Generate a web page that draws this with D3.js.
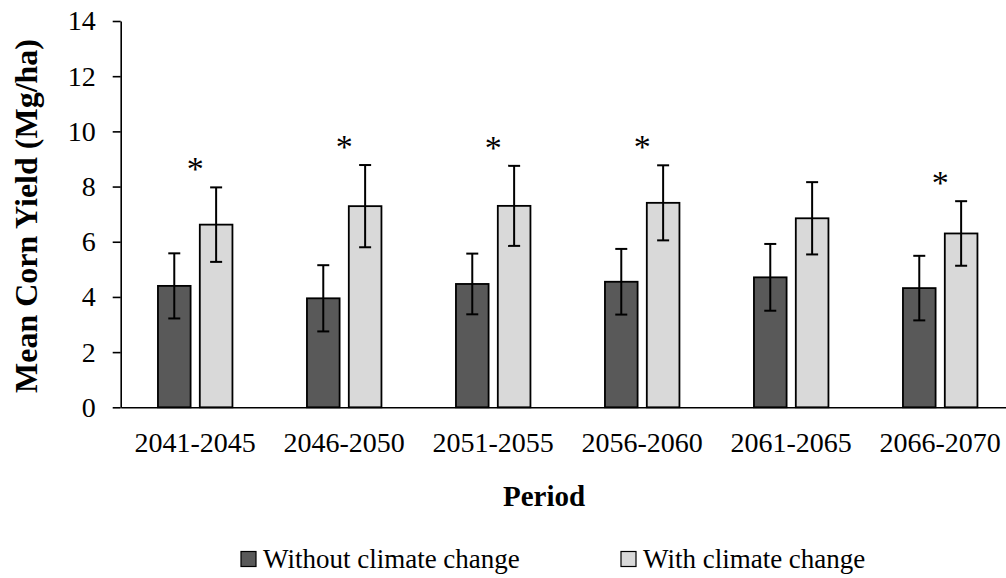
<!DOCTYPE html>
<meta charset="utf-8">
<style>
  body { margin: 0; background: #fff; }
  text { font-family: "Liberation Serif", "Times New Roman", serif; fill: #000; }
</style>
<body>
<svg width="1006" height="578"></svg>
<script src="https://d3js.org/d3.v7.min.js"></script>
<script>

// values
var periods = ["2041-2045", "2046-2050", "2051-2055", "2056-2060", "2061-2065", "2066-2070"];
var series = ["Without climate change", "With climate change"];
var withoutCC = [4.40, 3.95, 4.47, 4.55, 4.71, 4.32];
var withCC = [6.62, 7.29, 7.30, 7.41, 6.85, 6.30];
var withoutErr = [1.18, 1.20, 1.10, 1.19, 1.21, 1.17];
var withErr = [1.35, 1.49, 1.45, 1.36, 1.31, 1.17];
var significant = [true, true, true, true, false, true];
var yTicks = [0, 2, 4, 6, 8, 10, 12, 14];
var colors = ["#595959", "#d9d9d9"];

var svg = d3.select("svg");

var x0 = d3.scaleBand()
    .domain(periods)
    .range([120.7, 1014.7])
    .paddingInner(0.5)
    .paddingOuter(0.25);

var x1 = d3.scaleBand()
    .domain(series)
    .range([0, x0.bandwidth()])
    .paddingInner(0.22);

var y = d3.scaleLinear()
    .domain([0, 14])
    .range([407.3, 21]);

// one row per bar
var rows = [];
periods.forEach(function(p, i) {
  rows.push({ period: p, s: series[0], v: withoutCC[i], e: withoutErr[i], c: colors[0] });
  rows.push({ period: p, s: series[1], v: withCC[i], e: withErr[i], c: colors[1] });
});

// bars
svg.append("g").selectAll("rect")
    .data(rows)
  .enter().append("rect")
    .attr("x", function(d) { return x0(d.period) + x1(d.s); })
    .attr("y", function(d) { return y(d.v); })
    .attr("width", x1.bandwidth())
    .attr("height", function(d) { return y(0) - y(d.v); })
    .attr("fill", function(d) { return d.c; })
    .attr("stroke", "#000")
    .attr("stroke-width", 1.8);

// error bars
var capW = 12;
var err = svg.append("g")
    .attr("stroke", "#000")
    .attr("stroke-width", 2)
    .attr("fill", "none");

rows.forEach(function(d) {
  var cx = x0(d.period) + x1(d.s) + x1.bandwidth() / 2;
  var top = y(d.v + d.e), bot = y(d.v - d.e);
  err.append("line").attr("x1", cx).attr("x2", cx).attr("y1", top).attr("y2", bot);
  err.append("line").attr("x1", cx - capW / 2).attr("x2", cx + capW / 2).attr("y1", top).attr("y2", top);
  err.append("line").attr("x1", cx - capW / 2).attr("x2", cx + capW / 2).attr("y1", bot).attr("y2", bot);
});

// significance asterisks
periods.forEach(function(p, i) {
  if (!significant[i]) return;
  svg.append("text")
      .attr("x", x0(p) + x0.bandwidth() / 2)
      .attr("y", y(withCC[i] + withErr[i]) - 7)
      .attr("text-anchor", "middle")
      .style("font-size", "34px")
      .text("*");
});

// y axis
var yAxis = svg.append("g")
    .attr("transform", "translate(120.7,0)")
    .call(d3.axisLeft(y).tickValues(yTicks).tickSize(8).tickSizeOuter(0).tickPadding(17));
yAxis.selectAll("text").style("font-size", "28px").style("font-family", "'Liberation Serif', serif");
yAxis.selectAll("line, path").attr("stroke", "#000").attr("stroke-width", 1.6);

// x axis
var xAxis = svg.append("g")
    .attr("transform", "translate(0," + y(0) + ")")
    .call(d3.axisBottom(x0).tickSize(0).tickPadding(24.5));
xAxis.selectAll("text").style("font-size", "28px").style("font-family", "'Liberation Serif', serif");
xAxis.select("path").attr("stroke", "#000").attr("stroke-width", 1.6);

// axis titles
svg.append("text")
    .attr("transform", "translate(37,216) rotate(-90)")
    .attr("text-anchor", "middle")
    .style("font-size", "32px")
    .style("font-weight", "bold")
    .text("Mean Corn Yield (Mg/ha)");

svg.append("text")
    .attr("x", 544)
    .attr("y", 506)
    .attr("text-anchor", "middle")
    .style("font-size", "29px")
    .style("font-weight", "bold")
    .text("Period");

// legend
var legendX = [241, 621];
var legend = svg.append("g").selectAll("g")
    .data(series)
  .enter().append("g")
    .attr("transform", function(d, i) { return "translate(" + legendX[i] + ",0)"; });

legend.append("rect")
    .attr("x", 0)
    .attr("y", 551.5)
    .attr("width", 15)
    .attr("height", 15)
    .attr("fill", function(d, i) { return colors[i]; })
    .attr("stroke", "#000")
    .attr("stroke-width", 1.2);

legend.append("text")
    .attr("x", 22)
    .attr("y", 567.5)
    .style("font-size", "27px")
    .text(function(d) { return d; });

</script>
</body>
